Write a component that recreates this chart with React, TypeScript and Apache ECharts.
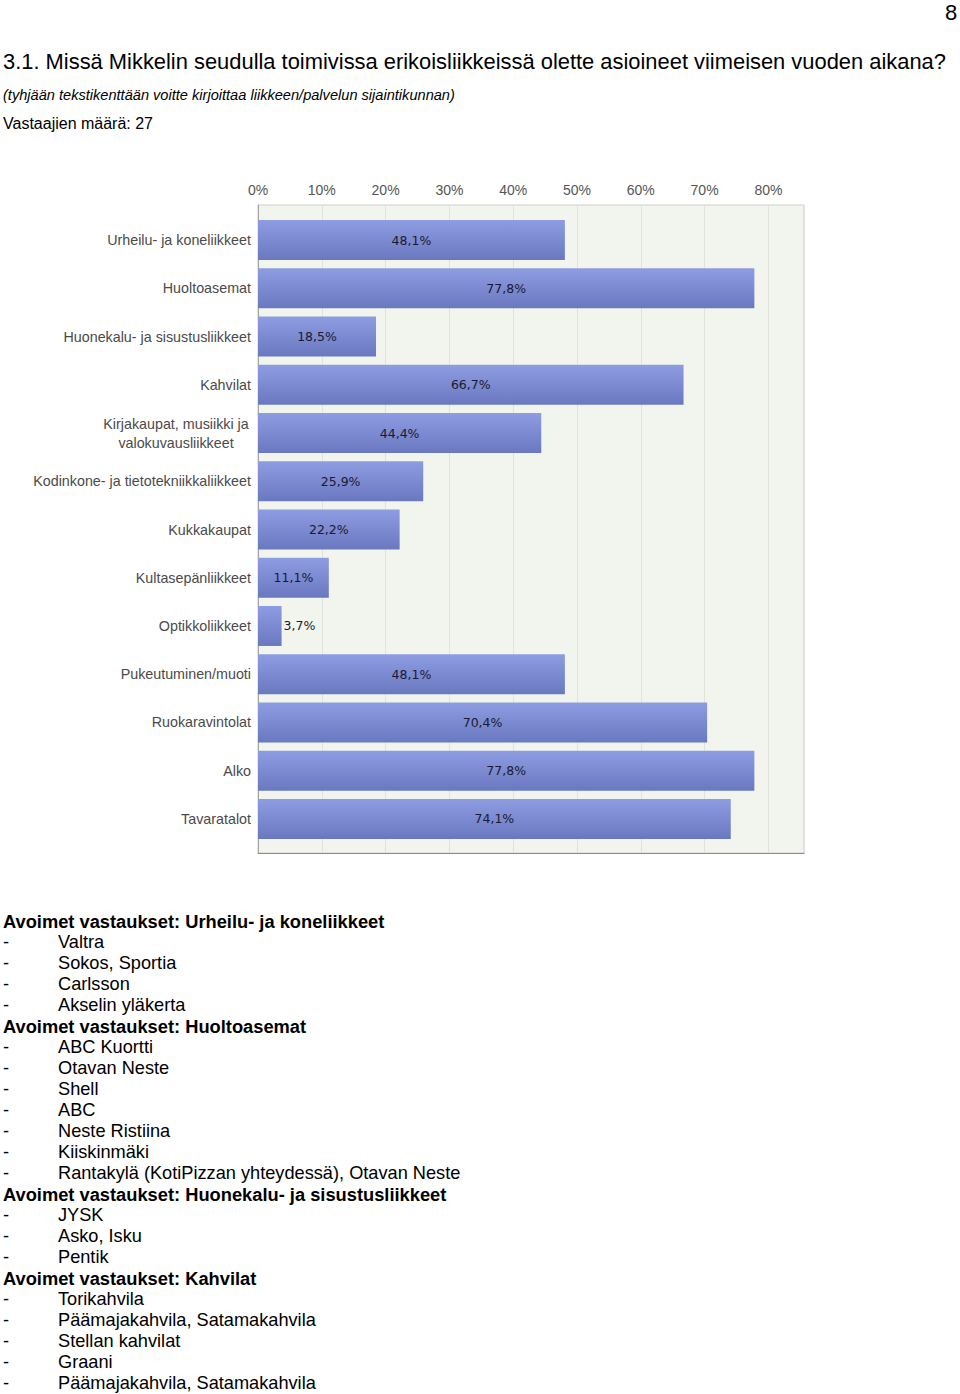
import React, { useEffect, useRef } from 'react';
import * as echarts from 'echarts';

const CATEGORIES = [
  'Urheilu- ja koneliikkeet',
  'Huoltoasemat',
  'Huonekalu- ja sisustusliikkeet',
  'Kahvilat',
  'Kirjakaupat, musiikki ja\nvalokuvausliikkeet',
  'Kodinkone- ja tietotekniikkaliikkeet',
  'Kukkakaupat',
  'Kultasepänliikkeet',
  'Optikkoliikkeet',
  'Pukeutuminen/muoti',
  'Ruokaravintolat',
  'Alko',
  'Tavaratalot',
];
const VALUES = [48.1, 77.8, 18.5, 66.7, 44.4, 25.9, 22.2, 11.1, 3.7, 48.1, 70.4, 77.8, 74.1];
const AXIS_MAX = 85.58;
const AXIS_INTERVAL = 10;

const PAGE_NUMBER = '8';
const TITLE = '3.1. Missä Mikkelin seudulla toimivissa erikoisliikkeissä olette asioineet viimeisen vuoden aikana?';
const SUBTITLE = '(tyhjään tekstikenttään voitte kirjoittaa liikkeen/palvelun sijaintikunnan)';
const RESPONDENTS = 'Vastaajien määrä: 27';

const OPEN_PREFIX = 'Avoimet vastaukset: ';
const GROUP_NAMES = ['Urheilu- ja koneliikkeet', 'Huoltoasemat', 'Huonekalu- ja sisustusliikkeet', 'Kahvilat'];
const ANSWERS_URHEILU = ['Valtra', 'Sokos, Sportia', 'Carlsson', 'Akselin yläkerta'];
const ANSWERS_HUOLTO = ['ABC Kuortti', 'Otavan Neste', 'Shell', 'ABC', 'Neste Ristiina', 'Kiiskinmäki', 'Rantakylä (KotiPizzan yhteydessä), Otavan Neste'];
const ANSWERS_HUONEKALU = ['JYSK', 'Asko, Isku', 'Pentik'];
const ANSWERS_KAHVILAT = ['Torikahvila', 'Päämajakahvila, Satamakahvila', 'Stellan kahvilat', 'Graani', 'Päämajakahvila, Satamakahvila'];
const ANSWER_LISTS = [ANSWERS_URHEILU, ANSWERS_HUOLTO, ANSWERS_HUONEKALU, ANSWERS_KAHVILAT];

const FONT = '"Liberation Sans", Arial, sans-serif';

function fmt(v: number) {
  return v.toFixed(1).replace('.', ',') + '%';
}

export default function App() {
  const ref = useRef<HTMLDivElement>(null);

  useEffect(() => {
    if (!ref.current) return;
    const chart = echarts.init(ref.current, undefined, { renderer: 'svg' });

    const graphics: any[] = [];
    const txt = (text: string, x: number, y: number, font: string, align = 'left') => {
      graphics.push({
        type: 'text',
        x,
        y,
        silent: true,
        style: {
          text,
          font,
          fill: '#000',
          align,
          verticalAlign: 'middle',
          textAlign: align,
          textVerticalAlign: 'middle',
        },
      });
    };

    txt(PAGE_NUMBER, 951, 12, `22px ${FONT}`, 'center');
    txt(TITLE, 3, 61, `21.9px ${FONT}`);
    txt(SUBTITLE, 3, 95, `italic 14.6px ${FONT}`);
    txt(RESPONDENTS, 3, 123, `16px ${FONT}`);

    let line = 0;
    const startY = 921;
    const step = 21;
    GROUP_NAMES.forEach((g, gi) => {
      txt(OPEN_PREFIX + g, 3, startY + step * line, `bold 18.3px ${FONT}`);
      line++;
      ANSWER_LISTS[gi].forEach((a) => {
        const y = startY + step * line;
        txt('-', 3, y, `18.2px ${FONT}`);
        txt(a, 58, y, `18.2px ${FONT}`);
        line++;
      });
    });

    const option: any = {
      animation: false,
      backgroundColor: '#ffffff',
      grid: [
        {
          left: 258,
          top: 205,
          width: 546,
          height: 648,
          show: true,
          backgroundColor: '#f2f5ee',
          borderColor: '#cdd0ca',
          borderWidth: 1,
        },
        { left: 258, top: 216, width: 546, height: 627 },
      ],
      xAxis: [
        {
          gridIndex: 0,
          type: 'value',
          position: 'top',
          min: 0,
          max: AXIS_MAX,
          interval: AXIS_INTERVAL,
          axisLine: { show: true, lineStyle: { color: '#8c8c8c', width: 1 } },
          axisTick: { show: false },
          axisLabel: {
            margin: 8,
            color: '#555555',
            fontFamily: FONT,
            fontSize: 14,
            showMaxLabel: false,
            formatter: (v: number) => (Math.abs(v % AXIS_INTERVAL) < 1e-6 ? v + '%' : ''),
          },
          splitLine: { show: true, lineStyle: { color: '#e0e3dc', width: 1 } },
        },
        {
          gridIndex: 1,
          type: 'value',
          min: 0,
          max: AXIS_MAX,
          show: false,
        },
      ],
      yAxis: [
        {
          gridIndex: 0,
          type: 'value',
          min: 0,
          max: 1,
          axisLine: { show: true, lineStyle: { color: '#a3a3a3', width: 1 } },
          axisTick: { show: false },
          axisLabel: { show: false },
          splitLine: { show: false },
        },
        {
          gridIndex: 1,
          type: 'category',
          data: CATEGORIES,
          inverse: true,
          axisLine: { show: false },
          axisTick: { show: false },
          splitLine: { show: false },
          axisLabel: {
            margin: 7,
            color: '#4a4a4a',
            fontFamily: FONT,
            fontSize: 14.3,
            lineHeight: 19,
            formatter: (v: string) =>
              v.indexOf('\n') >= 0 ? v.split('\n').map((l) => `{c|${l}}`).join('\n') : v,
            rich: {
              c: {
                width: 150,
                align: 'center',
                color: '#4a4a4a',
                fontFamily: FONT,
                fontSize: 14.3,
                lineHeight: 19,
              },
            },
          },
        },
      ],
      series: [
        {
          type: 'bar',
          xAxisIndex: 1,
          yAxisIndex: 1,
          barWidth: 40,
          data: VALUES.map((v) =>
            v < 5 ? { value: v, label: { position: 'right', distance: 2 } } : v
          ),
          itemStyle: {
            color: new echarts.graphic.LinearGradient(0, 0, 0, 1, [
              { offset: 0, color: '#8e9ce2' },
              { offset: 1, color: '#6a78c0' },
            ]),
          },
          label: {
            show: true,
            position: 'inside',
            color: '#1a1a30',
            fontFamily: '"DejaVu Sans", sans-serif',
            fontSize: 12.5,
            formatter: (p: any) => fmt(p.value),
          },
        },
      ],
      graphic: graphics,
    };

    chart.setOption(option);
    return () => chart.dispose();
  }, []);

  return (
    <div
      ref={ref}
      style={{ position: 'absolute', left: 0, top: 0, width: 960, height: 1394, background: '#fff' }}
    />
  );
}
